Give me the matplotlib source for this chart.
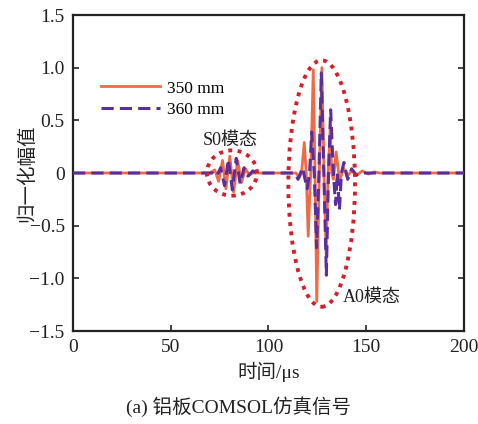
import matplotlib
matplotlib.use('Agg')
import matplotlib.pyplot as plt
from matplotlib.patches import Ellipse

plt.rcParams['font.family'] = ['Liberation Serif', 'Noto Sans CJK SC']
plt.rcParams['axes.unicode_minus'] = True

# 350 mm signal (solid), time in us
t350 = [0, 68, 70, 72.5, 74.5, 76.5, 78.2, 80.2, 82.2, 84.2, 86.2, 88.2, 90.2, 92,
        112, 114, 115.8, 116.9, 118.3, 119.3, 120.3, 121.6, 122.9, 123.8, 124.7,
        126.0, 127.3, 128.4, 129.5, 130.5, 131.6, 132.3, 133.2, 134.6, 136.4,
        138.3, 140.2, 142.5, 145, 148, 151, 154, 157, 200]
a350 = [0, 0, 0, 0.03, -0.08, 0.12, -0.15, 0.16, -0.18, 0.12, -0.09, 0.04, -0.02, 0,
        0, 0, -0.04, 0, 0.29, 0, -0.6, 0, 0.98, 0, -1.22,
        0, 1.0, 0, -0.78, 0, 0.45, 0, -0.06, 0.2, -0.08,
        0.05, -0.03, 0.02, -0.02, 0.02, -0.01, 0.01, 0, 0]

# 360 mm signal (dashed)
t360 = [0, 70, 71.5, 73.5, 75.5, 77.5, 79.5, 81.5, 83.5, 85.5, 87.5, 89.5, 92, 94,
        112, 113.5, 115.1, 117.4, 119.8, 121.0, 122.1, 123.4, 124.6, 125.8,
        127.0, 128.3, 129.6, 130.7, 131.8, 133.2, 134.3, 135.2, 136.3, 137.3,
        138.6, 140.5, 142.5, 145, 148, 200]
a360 = [0, 0, 0, -0.03, 0.05, -0.12, 0.13, -0.16, 0.14, -0.1, 0.05, -0.03, 0.02, 0,
        0, 0, -0.06, 0.05, -0.15, 0, 0.39, 0, -0.71, 0,
        0.95, 0, -0.97, 0, 0.6, 0, -0.3, 0, -0.35, 0,
        0.1, -0.06, 0.04, -0.02, 0, 0]

xticks = [0, 50, 100, 150, 200]
yticks = [-1.5, -1.0, -0.5, 0, 0.5, 1.0, 1.5]
ytick_labels = ['\u22121.5', '\u22121.0', '\u22120.5', '0', '0.5', '1.0', '1.5']

c_or = '#F26A45'
c_bl = '#5A2E9E'
c_red = '#D41F2A'

fig = plt.figure(figsize=(4.78, 4.24), dpi=100)
ax = fig.add_axes([0.1527, 0.2193, 0.818, 0.7453])

ax.plot(t350, a350, color=c_or, lw=2.0, label='350 mm', zorder=3)
ax.plot(t360, a360, color=c_bl, lw=2.2, dashes=(4, 2), label='360 mm', zorder=4)

# mode markers
for cx, cy, w, h in [(81.3, 0.0, 25.6, 0.43), (127.2, -0.1, 34.1, 2.34)]:
    e = Ellipse((cx, cy), w, h, fill=False, edgecolor=c_red, lw=2.8,
                linestyle=(0, (1, 1.4)), zorder=5)
    ax.add_patch(e)

ax.text(80.3, 0.31, 'S0模态', ha='center', va='center', fontsize=13, color='#222222')
ax.text(138, -1.18, 'A0模态', ha='left', va='center', fontsize=13, color='#222222')

ax.set_xlim(0, 200)
ax.set_ylim(-1.5, 1.5)
ax.set_xticks(xticks)
ax.set_yticks(yticks)
ax.set_yticklabels(ytick_labels)
ax.tick_params(direction='in', labelsize=14, length=4, width=1.2, right=True,
               colors='#222222', pad=6)
for s in ax.spines.values():
    s.set_linewidth(1.6)
    s.set_color('#222222')

ax.set_xlabel('时间/μs', fontsize=14, labelpad=4, color='#222222')
ax.set_ylabel('归一化幅值', fontsize=14, color='#222222')
ax.yaxis.set_label_coords(-0.093, 0.5)

leg = ax.legend(loc='upper left', bbox_to_anchor=(0.055, 0.815), frameon=False,
                fontsize=12.5, handlelength=3.4, handletextpad=0.4, labelspacing=0.3,
                borderaxespad=0)

fig.text(0.5, 0.04, '(a) 铝板COMSOL仿真信号', ha='center', va='center', fontsize=14,
         color='#222222')

fig.savefig('out.png', dpi=100)
